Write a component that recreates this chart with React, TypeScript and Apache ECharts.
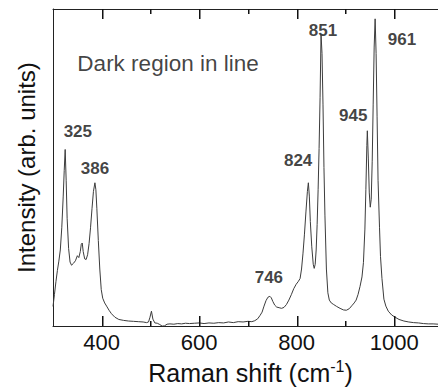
import React, { useEffect, useRef } from "react";
import * as echarts from "echarts";

const ramanShift = [
  300, 303, 306, 309, 312, 315, 318, 321, 323, 325,
  327, 329, 332, 335, 338, 342, 346, 350, 353, 356,
  358, 360, 362, 365, 368, 371, 374, 377, 380, 383,
  386, 388, 390, 393, 396, 399, 402, 406, 410, 415,
  420, 427, 435, 445, 455, 465, 475, 485, 492, 496,
  499, 502, 505, 509, 514, 519, 524, 529, 534, 540,
  548, 556, 564, 572, 580, 590, 600, 610, 620, 630,
  640, 650, 660, 670, 680, 690, 700, 708, 714, 720,
  725, 729, 733, 737, 741, 745, 748, 751, 755, 759,
  764, 769, 774, 779, 784, 789, 794, 799, 803, 807,
  810, 813, 816, 819, 822, 824, 826, 828, 831, 834,
  836, 838, 840, 842, 844, 846, 848, 850, 852, 854,
  856, 858, 861, 864, 867, 871, 876, 882, 889, 896,
  902, 908, 913, 918, 922, 926, 930, 934, 937, 940,
  942, 944, 945, 947, 949, 951, 953, 955, 957, 959,
  961, 963, 965, 967, 970, 972, 975, 979, 983, 988,
  995, 1002, 1010, 1020, 1030, 1040, 1050, 1060, 1070, 1080, 1090,
];

const intensity = [
  6.2, 10, 14, 17.5, 20.5, 24, 31, 41, 49, 55.7,
  46, 34, 24.5, 20.2, 19.2, 19.8, 20.6, 22.2, 21.6, 23.5,
  25.8, 26.2, 23.5, 21.2, 21.0, 22.5, 26, 31, 37, 42.5,
  45.2, 43, 37, 27, 18, 11.5, 8.8, 7.3, 6.3, 5.0,
  3.9, 2.8, 2.1, 1.8, 1.6, 1.5, 1.4, 1.3, 1.1, 1.3,
  2.8, 4.7, 2.2, 1.0, 0.9, 0.5, 0.0, 0.1, 0.6, 0.7,
  0.6, 0.8, 0.7, 0.9, 0.8, 0.9, 1.0, 0.8, 1.0, 0.9,
  1.1, 1.0, 1.3, 1.1, 1.4, 1.3, 1.5, 1.4, 1.7, 2.3,
  3.4, 4.4, 6.3, 8.0, 9.1, 9.4, 8.9, 7.8, 6.6, 6.0,
  5.8, 5.6, 5.9, 6.8, 8.2, 9.9, 11.8, 13.2, 14.0, 15.0,
  18, 23, 29, 36, 42.5, 45.2, 41, 33, 25, 19.5,
  18.2, 19.5, 24, 32, 43, 56, 72, 92, 86, 70,
  50, 35, 18, 10.5, 8.2, 7.3, 6.8, 6.2, 5.6, 5.1,
  5.0, 5.5, 6.4, 7.3, 8.2, 10, 12.5, 15.5, 20, 30.6,
  43, 57, 61.6, 53, 42, 37.5, 40, 52, 70, 88,
  96.9, 86, 66, 46, 31, 22, 15, 8.5, 6.3, 4.7,
  3.5, 2.8, 2.1, 1.6, 1.3, 1.1, 1.0, 0.8, 0.7, 0.7, 0.6,
];

const peakLabels = ["325", "386", "746", "824", "851", "945", "961"];
const peakLabelX = [351, 386, 743, 803, 854, 916, 1016];
const peakLabelY = [61.3, 49.8, 15.2, 52.3, 93.2, 66.3, 90.4];

const noteText = "Dark region in line";
const noteX = 350;
const noteY = 82.7;

const majorTicks = [400, 600, 800, 1000];
const minorTicks = [500, 700, 900];

const xMin = 300;
const xMax = 1090;
const yMin = 0;
const yMax = 100;

const FONT = "'Liberation Sans', Arial, Helvetica, sans-serif";

const MAJOR_LEN_PX = 10;
const MINOR_LEN_PX = 5;

export default function App() {
  const ref = useRef<HTMLDivElement>(null);

  useEffect(() => {
    if (!ref.current) return;
    const chart = echarts.init(ref.current, null, { renderer: "svg" });

    const lineData = ramanShift.map((x, i) => [x, intensity[i]]);
    const labelData = peakLabels.map((t, i) => [peakLabelX[i], peakLabelY[i], t]);
    const tickData = [
      ...majorTicks.map((v) => [v, MAJOR_LEN_PX]),
      ...minorTicks.map((v) => [v, MINOR_LEN_PX]),
    ];

    chart.setOption({
      animation: false,
      grid: { left: 53, right: 0, top: 9, bottom: 60, containLabel: false },
      xAxis: [
        {
          type: "value",
          min: xMin,
          max: xMax,
          position: "bottom",
          splitLine: { show: false },
          axisLine: { show: true, onZero: false, lineStyle: { color: "#222", width: 1 } },
          axisTick: { show: false },
          axisLabel: {
            show: true,
            customValues: majorTicks,
            formatter: (v: number) => String(v),
            margin: 5,
            fontSize: 22,
            color: "#111",
            fontFamily: FONT,
          },
          name: "Raman shift (cm{sup|-1})",
          nameLocation: "middle",
          nameGap: 30,
          nameTextStyle: {
            fontSize: 25,
            color: "#111",
            fontFamily: FONT,
            lineHeight: 29,
            padding: [0, 0, 0, 10],
            rich: {
              sup: { fontSize: 16, fontFamily: FONT, color: "#111", verticalAlign: "top", lineHeight: 18 },
            },
          },
        },
        {
          type: "value",
          min: xMin,
          max: xMax,
          position: "top",
          splitLine: { show: false },
          axisLine: { show: true, onZero: false, lineStyle: { color: "#222", width: 1 } },
          axisTick: { show: false },
          axisLabel: { show: false },
        },
      ],
      yAxis: {
        type: "value",
        min: yMin,
        max: yMax,
        axisLine: { show: true, onZero: false, lineStyle: { color: "#222", width: 1 } },
        axisTick: { show: false },
        axisLabel: { show: false },
        splitLine: { show: false },
        name: "Intensity (arb. units)",
        nameLocation: "middle",
        nameRotate: 90,
        nameGap: 15,
        nameTextStyle: { fontSize: 24, color: "#111", fontFamily: FONT },
      },
      series: [
        {
          type: "custom",
          xAxisIndex: 0,
          yAxisIndex: 0,
          data: tickData,
          silent: true,
          clip: false,
          z: 10,
          encode: { x: 0, y: 1 },
          renderItem: (_params: any, api: any) => {
            const v = api.value(0);
            const len = api.value(1);
            const b = api.coord([v, yMin]);
            const t = api.coord([v, yMax]);
            const x = Math.round(b[0]);
            return {
              type: "group",
              children: [
                {
                  type: "rect",
                  shape: { x, y: Math.round(b[1]) - len, width: 1.5, height: len },
                  style: { fill: "#111" },
                },
                {
                  type: "rect",
                  shape: { x, y: Math.round(t[1]), width: 1.5, height: len },
                  style: { fill: "#111" },
                },
              ],
            };
          },
        },
        {
          type: "line",
          xAxisIndex: 0,
          data: lineData,
          showSymbol: false,
          symbol: "none",
          lineStyle: { color: "#3c3c3c", width: 1 },
          silent: true,
        },
        {
          type: "scatter",
          xAxisIndex: 0,
          data: labelData,
          symbolSize: 0,
          silent: true,
          label: {
            show: true,
            position: "inside",
            formatter: (p: any) => p.value[2],
            fontSize: 17,
            fontWeight: "bold",
            color: "#111",
            fontFamily: FONT,
          },
        },
        {
          type: "scatter",
          xAxisIndex: 0,
          data: [[noteX, noteY, noteText]],
          symbolSize: 0,
          silent: true,
          label: {
            show: true,
            position: "right",
            distance: 0,
            formatter: (p: any) => p.value[2],
            fontSize: 22.5,
            color: "#111",
            fontFamily: FONT,
          },
        },
      ],
    });

    return () => chart.dispose();
  }, []);

  return <div ref={ref} style={{ width: 438, height: 392, position: "absolute", left: 0, top: 0 }} />;
}
